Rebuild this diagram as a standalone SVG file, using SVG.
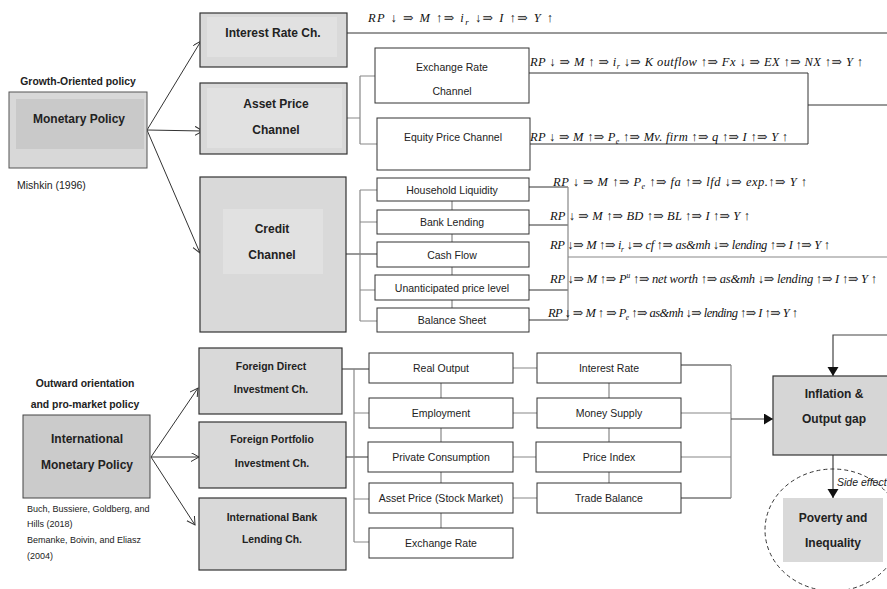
<svg xmlns="http://www.w3.org/2000/svg" width="887" height="589" viewBox="0 0 887 589">
<style>
.bg{fill:#fff}
.bx{fill:#fff;stroke:#333;stroke-width:1}
.gb{fill:#d9d9d9;stroke:#333;stroke-width:1.2}
.in{fill:#e1e1e1}
.lb{font-family:"Liberation Sans",Arial,sans-serif;font-weight:bold;font-size:12px;fill:#222;text-anchor:middle}
.hd{font-family:"Liberation Sans",Arial,sans-serif;font-weight:bold;font-size:10.4px;fill:#222;text-anchor:middle}
.t{font-family:"Liberation Sans",Arial,sans-serif;font-size:10.5px;fill:#222;text-anchor:middle}
.rf{font-family:"Liberation Sans",Arial,sans-serif;font-size:9px;fill:#222}
.f{font-family:"Liberation Serif","DejaVu Serif",serif;font-style:italic;font-size:12.5px;fill:#111}
.c{fill:none;stroke:#333;stroke-width:1}
.g{fill:none;stroke:#888;stroke-width:1.2}
.ar{fill:none;stroke:#333;stroke-width:1;marker-end:url(#open)}
.fa{fill:none;stroke:#444;stroke-width:1.2;marker-end:url(#solid)}
</style>
<defs>
<marker id="open" markerUnits="userSpaceOnUse" markerWidth="10" markerHeight="10" refX="8" refY="4.5" orient="auto">
<path d="M0,0 L8,4.5 L0,9" fill="none" stroke="#333" stroke-width="1"/>
</marker>
<marker id="solid" markerUnits="userSpaceOnUse" markerWidth="12" markerHeight="12" refX="9" refY="5.5" orient="auto">
<path d="M0,0 L9,5.5 L0,11 z" fill="#111"/>
</marker>
</defs>
<rect class="bg" x="0" y="0" width="887" height="589"/>

<g id="connectors">
<line class="ar" x1="147" y1="130" x2="201" y2="41"/>
<line class="ar" x1="147" y1="130" x2="203" y2="131"/>
<line class="ar" x1="147" y1="130" x2="200" y2="253"/>
<line class="ar" x1="151" y1="457" x2="198" y2="388"/>
<line class="ar" x1="151" y1="457" x2="199" y2="457"/>
<line class="ar" x1="151" y1="457" x2="195" y2="525"/>
<line class="c" x1="347" y1="33" x2="887" y2="33"/>
<path class="g" d="M347,118 H360 M360,76 V144 M360,76 H375 M360,144 H377"/>
<path class="c" d="M529,73 H808 V144 H530 M808,105 H887"/>
<path class="c" d="M346,254 H377"/>
<path class="g" d="M360,190 V321 M360,190 H377 M360,222 H377 M360,290 H375 M360,321 H377"/>
<path class="g" d="M452,201 V210 M452,234 V242 M452,267 V275 M452,300 V308"/>
<path class="c" d="M529,187 H568 M529,225 H568 M529,290 H568 M529,320 H568"/>
<path class="g" d="M568,187 V320 M568,257 H887"/>
<path class="c" d="M342,369 H369 M346,457 H368"/>
<path class="g" d="M354,369 V542 M354,413 H369 M354,499 H369 M354,542 H369"/>
<path class="g" d="M441,383 V398 M441,428 V442 M441,472 V483 M441,513 V528"/>
<path class="g" d="M609,383 V398 M609,428 V442 M609,472 V483"/>
<path class="g" d="M513,368 H537 M513,413 H537 M513,457 H536 M513,498 H537"/>
<path class="c" d="M681,365 H731 M681,498 H731"/>
<path class="g" d="M681,413 H731 M681,457 H731 M731,365 V498"/>
<line class="fa" x1="731" y1="419" x2="773" y2="419"/>
<path class="fa" d="M887,335 H833 V376"/>
<line class="fa" x1="833" y1="455" x2="833" y2="498"/>
</g>

<g id="formulas">
<text class="f" x="368" y="22" font-size="14" textLength="185" lengthAdjust="spacing">RP ↓ ⇒ M ↑⇒ i<tspan dy="3" font-size="9">r</tspan><tspan dy="-3"> ↓⇒ I ↑⇒ Y ↑</tspan></text>
<text class="f" x="530" y="66" textLength="333" lengthAdjust="spacing">RP ↓ ⇒ M ↑ ⇒ i<tspan dy="3" font-size="8">r</tspan><tspan dy="-3"> ↓⇒ K outflow ↑⇒ Fx ↓ ⇒ EX ↑⇒ NX ↑⇒ Y ↑</tspan></text>
<text class="f" x="530" y="141" textLength="258" lengthAdjust="spacing">RP ↓ ⇒ M ↑⇒ P<tspan dy="3" font-size="8">e</tspan><tspan dy="-3"> ↑⇒ Mv. firm ↑⇒ q ↑⇒ I ↑⇒ Y ↑</tspan></text>
<text class="f" x="553" y="186" textLength="254" lengthAdjust="spacing">RP ↓ ⇒ M ↑⇒ P<tspan dy="3" font-size="8">e</tspan><tspan dy="-3"> ↑⇒ fa ↑⇒ lfd ↓⇒ exp.↑⇒ Y ↑</tspan></text>
<text class="f" x="550" y="220" textLength="200" lengthAdjust="spacing">RP ↓ ⇒ M ↑⇒ BD ↑⇒ BL ↑⇒ I ↑⇒ Y ↑</text>
<text class="f" x="550" y="249" font-size="11.5" textLength="280" lengthAdjust="spacing">RP ↓⇒ M ↑⇒ i<tspan dy="3" font-size="7.5">r</tspan><tspan dy="-3"> ↓⇒ cf ↑⇒ as&amp;mh ↓⇒ lending ↑⇒ I ↑⇒ Y ↑</tspan></text>
<text class="f" x="550" y="283" font-size="11.5" textLength="327" lengthAdjust="spacing">RP ↓⇒  M ↑⇒ P<tspan dy="-5" font-size="7.5">u</tspan><tspan dy="5"> ↑⇒ net worth ↑⇒ as&amp;mh ↓⇒ lending ↑⇒ I ↑⇒ Y ↑</tspan></text>
<text class="f" x="548" y="317" font-size="11.5" textLength="250" lengthAdjust="spacing">RP ↓ ⇒  M ↑ ⇒ P<tspan dy="3" font-size="7.5">e</tspan><tspan dy="-3"> ↑⇒ as&amp;mh ↓⇒ lending ↑⇒ I ↑⇒ Y ↑</tspan></text>
</g>

<g id="monetary-policy">
<text class="hd" x="78" y="85">Growth-Oriented policy</text>
<rect x="9" y="92" width="138" height="76" fill="#d8d8d8" stroke="#555" stroke-width="1"/>
<rect x="16" y="99" width="128" height="50" fill="#c9c9c9"/>
<text class="lb" x="79" y="123">Monetary Policy</text>
<text x="17" y="189" font-family="Liberation Sans,Arial,sans-serif" font-size="10.5" fill="#222">Mishkin (1996)</text>
</g>

<g id="interest-rate-ch">
<rect class="gb" x="200" y="13" width="147" height="54"/>
<rect class="in" x="207" y="17" width="130" height="40"/>
<text class="lb" x="273" y="37">Interest Rate Ch.</text>
</g>

<g id="asset-price-channel">
<rect class="gb" x="200" y="83" width="147" height="71"/>
<rect class="in" x="207" y="88" width="135" height="60"/>
<text class="lb" x="276" y="108">Asset Price</text>
<text class="lb" x="276" y="134">Channel</text>
</g>

<g id="exchange-rate-channel">
<rect class="bx" x="375" y="48" width="154" height="55"/>
<text class="t" x="452" y="71">Exchange Rate</text>
<text class="t" x="452" y="95">Channel</text>
</g>

<g id="equity-price-channel">
<rect class="bx" x="377" y="118" width="153" height="52"/>
<text class="t" x="453" y="141">Equity Price Channel</text>
</g>

<g id="credit-channel">
<rect class="gb" x="200" y="177" width="146" height="155"/>
<rect class="in" x="223" y="209" width="100" height="65"/>
<text class="lb" x="272" y="233">Credit</text>
<text class="lb" x="272" y="259">Channel</text>
</g>

<g id="household-liquidity">
<rect class="bx" x="377" y="178" width="152" height="23"/>
<text class="t" x="452" y="194">Household Liquidity</text>
</g>
<g id="bank-lending">
<rect class="bx" x="377" y="210" width="152" height="24"/>
<text class="t" x="452" y="226">Bank Lending</text>
</g>
<g id="cash-flow">
<rect class="bx" x="377" y="242" width="152" height="25"/>
<text class="t" x="452" y="259">Cash Flow</text>
</g>
<g id="unanticipated-price-level">
<rect class="bx" x="375" y="275" width="154" height="25"/>
<text class="t" x="452" y="292">Unanticipated price level</text>
</g>
<g id="balance-sheet">
<rect class="bx" x="377" y="308" width="152" height="24"/>
<text class="t" x="452" y="324">Balance Sheet</text>
</g>

<g id="international-monetary-policy">
<text class="hd" x="85" y="387">Outward orientation</text>
<text class="hd" x="85" y="408">and pro-market  policy</text>
<rect x="23" y="415" width="127" height="83" fill="#cbcbcb" stroke="#444" stroke-width="1"/>
<text class="lb" x="87" y="443">International</text>
<text class="lb" x="87" y="469">Monetary Policy</text>
<text class="rf" x="27" y="512">Buch, Bussiere, Goldberg, and</text>
<text class="rf" x="27" y="527">Hills (2018)</text>
<text class="rf" x="27" y="543">Bemanke, Boivin, and Eliasz</text>
<text class="rf" x="27" y="559">(2004)</text>
</g>

<g id="fdi-ch">
<rect class="gb" x="199" y="348" width="143" height="66"/>
<text class="hd" x="271" y="370">Foreign Direct</text>
<text class="hd" x="271" y="393">Investment Ch.</text>
</g>
<g id="fpi-ch">
<rect class="gb" x="199" y="422" width="147" height="66"/>
<text class="hd" x="272" y="443">Foreign Portfolio</text>
<text class="hd" x="272" y="467">Investment Ch.</text>
</g>
<g id="ibl-ch">
<rect class="gb" x="199" y="498" width="147" height="72"/>
<text class="hd" x="272" y="521">International Bank</text>
<text class="hd" x="272" y="543">Lending Ch.</text>
</g>

<g id="real-output"><rect class="bx" x="369" y="353" width="144" height="30"/><text class="t" x="441" y="372">Real Output</text></g>
<g id="employment"><rect class="bx" x="369" y="398" width="144" height="30"/><text class="t" x="441" y="417">Employment</text></g>
<g id="private-consumption"><rect class="bx" x="368" y="442" width="145" height="30"/><text class="t" x="441" y="461">Private Consumption</text></g>
<g id="asset-price-stock"><rect class="bx" x="369" y="483" width="144" height="30"/><text class="t" x="441" y="502">Asset Price (Stock Market)</text></g>
<g id="exchange-rate"><rect class="bx" x="369" y="528" width="144" height="30"/><text class="t" x="441" y="547">Exchange Rate</text></g>

<g id="interest-rate"><rect class="bx" x="537" y="353" width="144" height="30"/><text class="t" x="609" y="372">Interest Rate</text></g>
<g id="money-supply"><rect class="bx" x="537" y="398" width="144" height="30"/><text class="t" x="609" y="417">Money Supply</text></g>
<g id="price-index"><rect class="bx" x="536" y="442" width="145" height="30"/><text class="t" x="609" y="461">Price Index</text></g>
<g id="trade-balance"><rect class="bx" x="537" y="483" width="144" height="30"/><text class="t" x="609" y="502">Trade Balance</text></g>

<g id="inflation-output-gap">
<rect x="773" y="376" width="120" height="79" fill="#d6d6d6" stroke="#333" stroke-width="1.2"/>
<text class="lb" x="834" y="398">Inflation &amp;</text>
<text class="lb" x="834" y="423">Output gap</text>
</g>

<g id="poverty-inequality">
<ellipse cx="833" cy="530" rx="68" ry="61" fill="none" stroke="#333" stroke-width="1" stroke-dasharray="4 3"/>
<rect x="783" y="498" width="100" height="64" fill="#d9d9d9"/>
<text class="lb" x="833" y="522">Poverty and</text>
<text class="lb" x="833" y="547">Inequality</text>
<text x="837" y="486" font-family="Liberation Sans,Arial,sans-serif" font-size="10.5" font-style="italic" fill="#222">Side effect</text>
</g>
</svg>
